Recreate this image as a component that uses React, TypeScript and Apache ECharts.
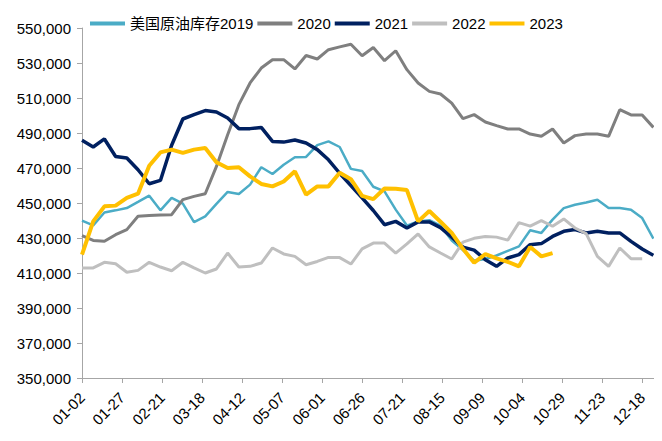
import React, { useEffect, useRef } from "react";
import * as echarts from "echarts";

const MONTH_DAYS = [31, 28, 31, 30, 31, 30, 31, 31, 30, 31, 30, 31];

function buildDays(): string[] {
  const out: string[] = [];
  MONTH_DAYS.forEach((n, m) => {
    for (let d = 1; d <= n; d++) {
      out.push(String(m + 1).padStart(2, "0") + "-" + String(d).padStart(2, "0"));
    }
  });
  return out.slice(1, 360); // 01-02 .. 12-26
}

const DAYS = buildDays();
const WEEKS = DAYS.filter((_, i) => i % 7 === 0);

const SERIES_NAMES = ["美国原油库存2019", "2020", "2021", "2022", "2023"];

const S2019 = [439900, 437200, 444600, 445800, 447100, 450600, 454200, 445800, 452900, 449600, 439100, 442400, 449500, 456300, 455100, 460500, 470400, 466600, 471900, 476100, 476300, 483100, 485200, 482000, 469500, 468300, 459300, 456600, 446200, 437100, 439500, 440200, 437100, 428600, 423100, 417000, 418000, 420000, 422600, 425200, 434400, 432900, 440500, 447100, 449000, 450300, 451900, 447100, 447100, 446200, 441400, 429600];
const S2020 = [431300, 428600, 428100, 431900, 434800, 442400, 442800, 443100, 443300, 451900, 453800, 455300, 470900, 489000, 506200, 518600, 527100, 531900, 531900, 526600, 534300, 532300, 537600, 539200, 540700, 534100, 538900, 531300, 537000, 526200, 518600, 513800, 512300, 507100, 498200, 500500, 496300, 494200, 492300, 492300, 489400, 488100, 492300, 484300, 488500, 489400, 489400, 488100, 503300, 500300, 500300, 493200];
const S2021 = [485800, 482000, 486600, 476600, 475700, 469000, 461000, 462900, 483000, 498000, 500500, 502800, 502000, 498600, 492500, 492500, 493200, 485200, 484800, 486000, 484300, 480500, 474700, 467000, 460000, 452900, 445700, 437600, 439500, 435700, 439200, 439200, 435900, 430500, 424800, 423100, 417600, 413800, 418600, 420500, 426200, 426800, 430900, 433800, 434800, 432900, 433800, 432900, 432900, 428100, 423700, 420100];
const S2022 = [412900, 412900, 416100, 415300, 410400, 411500, 416100, 413400, 411300, 416100, 412900, 410000, 412300, 421400, 413400, 413800, 415700, 424300, 420900, 419500, 414700, 416600, 418900, 418800, 415100, 423800, 427100, 427100, 421400, 426600, 432300, 424900, 421400, 418000, 427600, 429800, 430900, 430500, 428800, 438800, 436800, 439900, 436700, 440900, 435700, 432500, 419500, 413800, 424300, 418200, 418200];
const S2023 = [420500, 439500, 448100, 448500, 452900, 455300, 471300, 478900, 480500, 478600, 480500, 481400, 473300, 470000, 470400, 465200, 460900, 459500, 462300, 468100, 454800, 459500, 459500, 467300, 463600, 454100, 452200, 458300, 458100, 457400, 439500, 445400, 439300, 432900, 423800, 415900, 420800, 418400, 416400, 413800, 424900, 419500, 421400];

const VALUES = [S2019, S2020, S2021, S2022, S2023];
const COLORS = ["#4bacc6", "#7f7f7f", "#002060", "#bfbfbf", "#ffc000"];
const WIDTHS = [2.5, 3, 3.5, 3, 4];

const FONT = "'Liberation Sans', Arial, 'Noto Sans CJK SC', sans-serif";

function fmt(v: number): string {
  return String(v).replace(/\B(?=(\d{3})+(?!\d))/g, ",");
}

export default function App() {
  const ref = useRef<HTMLDivElement>(null);
  useEffect(() => {
    if (!ref.current) return;
    const chart = echarts.init(ref.current, undefined, { renderer: "svg" });
    chart.setOption({
      animation: false,
      backgroundColor: "#ffffff",
      textStyle: { fontFamily: FONT },
      legend: {
        left: 85,
        top: 11,
        icon: "rect",
        itemWidth: 35,
        itemHeight: 4,
        itemGap: 4,
        textStyle: { fontSize: 15, color: "#000", fontFamily: FONT },
        data: SERIES_NAMES,
      },
      grid: { left: 82, right: 7, top: 28, bottom: 63, containLabel: false },
      xAxis: {
        type: "category",
        data: DAYS,
        boundaryGap: false,
        axisLine: { show: true, lineStyle: { color: "#a6a6a6", width: 1 } },
        axisTick: { show: true, interval: 24, length: 5, lineStyle: { color: "#a6a6a6" } },
        axisLabel: {
          interval: 24,
          rotate: 45,
          margin: 17,
          fontSize: 15,
          color: "#000",
          fontFamily: FONT,
        },
        splitLine: { show: false },
      },
      yAxis: {
        type: "value",
        min: 350000,
        max: 550000,
        interval: 20000,
        axisLine: { show: true, lineStyle: { color: "#a6a6a6", width: 1 } },
        axisTick: { show: true, length: 5, lineStyle: { color: "#a6a6a6" } },
        axisLabel: {
          margin: 11,
          fontSize: 15,
          color: "#000",
          fontFamily: FONT,
          formatter: (v: number) => fmt(v),
        },
        splitLine: { show: false },
      },
      series: SERIES_NAMES.map((name, i) => ({
        name,
        type: "line",
        showSymbol: false,
        symbol: "none",
        smooth: false,
        color: COLORS[i],
        lineStyle: { color: COLORS[i], width: WIDTHS[i] },
        data: VALUES[i].map((v, k) => [WEEKS[k], v]),
      })),
    });
    return () => chart.dispose();
  }, []);
  return <div ref={ref} style={{ width: 662, height: 441, margin: -8 }} />;
}
